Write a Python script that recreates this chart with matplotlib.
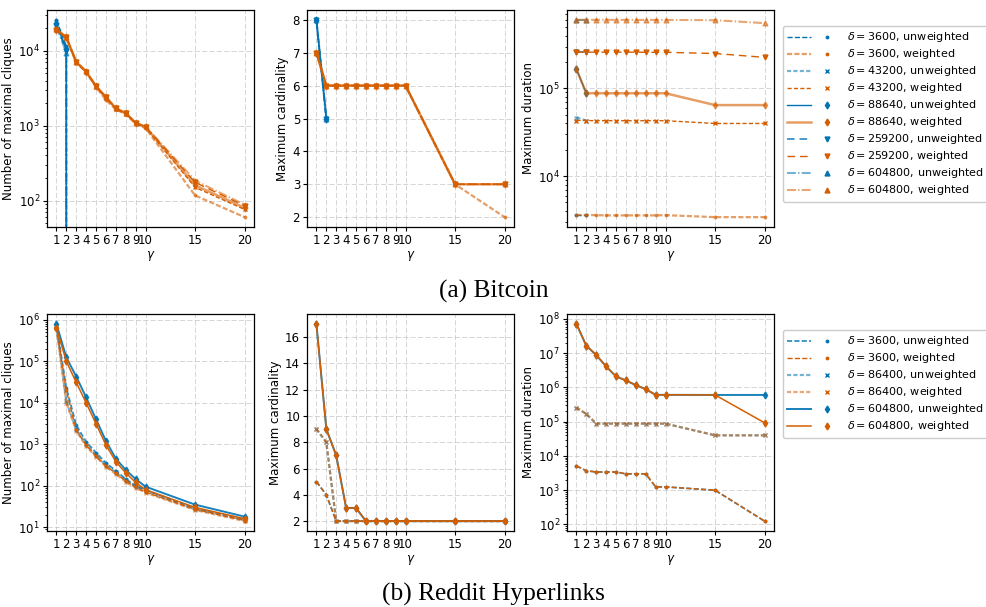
import numpy as np
import matplotlib
matplotlib.use("Agg")
import matplotlib.pyplot as plt
from matplotlib.lines import Line2D
from matplotlib.legend_handler import HandlerTuple
from matplotlib.ticker import MultipleLocator

nan = np.nan
gammas = [1, 2, 3, 4, 5, 6, 7, 8, 9, 10, 15, 20]
xtick_labels = ["1", "2", "3", "4", "5", "6", "7", "8", "9", "10", "15", "20"]

# ---------------- Bitcoin ----------------
btc_deltas = [3600, 43200, 88640, 259200, 604800]
z = [0] * 10
btc_count_unw = {
    3600:   [2.6e4, 1.15e4] + z,
    43200:  [2.45e4, 1.1e4] + z,
    88640:  [2.3e4, 1.05e4] + z,
    259200: [2.2e4, 1.0e4] + z,
    604800: [2.1e4, 9.5e3] + z,
}
btc_count_w = {
    3600:   [1.9e4, 1.5e4, 7.0e3, 5.2e3, 3.3e3, 2.2e3, 1.65e3, 1.42e3, 1.06e3, 930, 117, 60],
    43200:  [1.9e4, 1.5e4, 7.0e3, 5.2e3, 3.3e3, 2.35e3, 1.68e3, 1.45e3, 1.08e3, 950, 150, 76],
    88640:  [1.9e4, 1.52e4, 7.1e3, 5.3e3, 3.35e3, 2.4e3, 1.7e3, 1.47e3, 1.09e3, 960, 160, 80],
    259200: [1.92e4, 1.52e4, 7.1e3, 5.3e3, 3.35e3, 2.4e3, 1.7e3, 1.47e3, 1.1e3, 970, 175, 85],
    604800: [1.95e4, 1.55e4, 7.2e3, 5.35e3, 3.4e3, 2.45e3, 1.72e3, 1.48e3, 1.1e3, 980, 185, 88],
}
n10 = [nan] * 10
btc_card_unw = {
    3600:   [8, 5] + n10,
    43200:  [8, 5] + n10,
    88640:  [8, 5] + n10,
    259200: [8, 5] + n10,
    604800: [8, 5] + n10,
}
btc_card_w = {
    3600:   [7, 6, 6, 6, 6, 6, 6, 6, 6, 6, 3, 2],
    43200:  [7, 6, 6, 6, 6, 6, 6, 6, 6, 6, 3, 3],
    88640:  [7, 6, 6, 6, 6, 6, 6, 6, 6, 6, 3, 3],
    259200: [7, 6, 6, 6, 6, 6, 6, 6, 6, 6, 3, 3],
    604800: [7, 6, 6, 6, 6, 6, 6, 6, 6, 6, 3, 3],
}
btc_dur_unw = {
    3600:   [3.6e3, 3.6e3] + n10,
    43200:  [4.65e4, 4.3e4] + n10,
    88640:  [1.66e5, 8.8e4] + n10,
    259200: [2.59e5, 2.59e5] + n10,
    604800: [6.05e5, 6.05e5] + n10,
}
btc_dur_w = {
    3600:   [3.6e3, 3.6e3, 3.58e3, 3.56e3, 3.56e3, 3.56e3, 3.56e3, 3.56e3, 3.56e3, 3.58e3, 3.4e3, 3.4e3],
    43200:  [4.3e4, 4.3e4, 4.28e4, 4.28e4, 4.28e4, 4.28e4, 4.28e4, 4.28e4, 4.28e4, 4.28e4, 3.98e4, 3.98e4],
    88640:  [1.66e5, 8.8e4, 8.8e4, 8.8e4, 8.8e4, 8.8e4, 8.8e4, 8.8e4, 8.8e4, 8.8e4, 6.45e4, 6.45e4],
    259200: [2.59e5, 2.59e5, 2.59e5, 2.59e5, 2.59e5, 2.59e5, 2.59e5, 2.58e5, 2.58e5, 2.58e5, 2.5e5, 2.26e5],
    604800: [6.05e5, 6.05e5, 6.05e5, 6.05e5, 6.05e5, 6.05e5, 6.04e5, 6.04e5, 6.04e5, 6.04e5, 6.0e5, 5.55e5],
}

# ---------------- Reddit ----------------
red_deltas = [3600, 86400, 604800]
red_count_unw = {
    3600:   [7.5e5, 2.3e4, 2.9e3, 1.14e3, 630, 355, 230, 145, 100, 80, 28, 15.5],
    86400:  [7.2e5, 1.1e4, 2.3e3, 1.0e3, 540, 310, 210, 135, 97, 75, 27, 15],
    604800: [8.0e5, 1.25e5, 4.3e4, 1.35e4, 4.0e3, 1.2e3, 450, 240, 145, 95, 35, 18],
}
red_count_w = {
    3600:   [6.5e5, 2.0e4, 2.2e3, 950, 520, 300, 200, 130, 92, 70, 27, 14.5],
    86400:  [6.3e5, 1.0e4, 2.1e3, 900, 500, 290, 190, 125, 90, 68, 26, 14],
    604800: [6.3e5, 1.0e5, 3.1e4, 1.0e4, 3.1e3, 960, 380, 204, 120, 80, 30, 16],
}
red_card_unw = {
    3600:   [5, 4, 2, 2, 2, 2, 2, 2, 2, 2, 2, 2],
    86400:  [9, 8, 2, 2, 2, 2, 2, 2, 2, 2, 2, 2],
    604800: [17, 9, 7, 3, 3, 2, 2, 2, 2, 2, 2, 2],
}
red_card_w = {
    3600:   [5, 4, 2, 2, 2, 2, 2, 2, 2, 2, 2, 2],
    86400:  [9, 8, 2, 2, 2, 2, 2, 2, 2, 2, 2, 2],
    604800: [17, 9, 7, 3, 3, 2, 2, 2, 2, 2, 2, 2],
}
red_dur_unw = {
    3600:   [5.1e3, 3.7e3, 3.4e3, 3.4e3, 3.4e3, 3.0e3, 3.0e3, 3.0e3, 1.25e3, 1.25e3, 1.0e3, 125],
    86400:  [2.6e5, 1.68e5, 8.8e4, 8.8e4, 8.8e4, 8.8e4, 8.8e4, 8.8e4, 8.8e4, 8.8e4, 4.0e4, 4.0e4],
    604800: [7.2e7, 1.65e7, 8.9e6, 4.1e6, 2.1e6, 1.6e6, 1.17e6, 8.9e5, 6.1e5, 6.1e5, 6.05e5, 6.05e5],
}
red_dur_w = {
    3600:   [5.1e3, 3.7e3, 3.4e3, 3.4e3, 3.4e3, 3.0e3, 3.0e3, 3.0e3, 1.25e3, 1.25e3, 1.0e3, 125],
    86400:  [2.6e5, 1.68e5, 8.8e4, 8.8e4, 8.8e4, 8.8e4, 8.8e4, 8.8e4, 8.8e4, 8.8e4, 4.0e4, 4.0e4],
    604800: [7.2e7, 1.65e7, 8.9e6, 4.1e6, 2.1e6, 1.6e6, 1.17e6, 8.9e5, 6.1e5, 6.1e5, 6.05e5, 9.3e4],
}

# ---------------- styles ----------------
BLUE = "#0173b2"
ORANGE = "#d55e00"
ls_map = {3600: (0, (3.7, 1.6)), 43200: (0, (3, 1.6)), 86400: (0, (3, 1.6)), 88640: "-",
          259200: (0, (5.5, 3.5)), 604800: (0, (6.4, 1.6, 1, 1.6))}
mk_map = {3600: ".", 43200: "x", 86400: "x", 88640: "d", 259200: "v", 604800: "^"}
# (linewidth, alpha) for (delta, weighted)
btc_lw = {(3600, 0): (1, 1), (3600, 1): (1.6, 0.6), (43200, 0): (1.6, 0.55), (43200, 1): (1, 1),
          (88640, 0): (1, 1), (88640, 1): (1.8, 0.6), (259200, 0): (1.1, 0.9), (259200, 1): (1, 1),
          (604800, 0): (1.5, 0.55), (604800, 1): (1.5, 0.55)}
red_lw = {(3600, 0): (1.3, 0.8), (3600, 1): (1, 1), (86400, 0): (1.6, 0.55), (86400, 1): (1.6, 0.55),
          (604800, 0): (1.4, 0.9), (604800, 1): (1.1, 1)}
red_ls = dict(ls_map)
red_ls[604800] = "-"
red_mk = dict(mk_map)
red_mk[604800] = "d"

plt.rcParams["font.family"] = ["DejaVu Sans"]
plt.rcParams["font.size"] = 8
plt.rcParams["lines.scale_dashes"] = False
plt.rcParams["xtick.major.size"] = 2.6
plt.rcParams["ytick.major.size"] = 2.6
plt.rcParams["xtick.minor.size"] = 1.5
plt.rcParams["ytick.minor.size"] = 1.5
plt.rcParams["xtick.major.pad"] = 2.4
plt.rcParams["ytick.major.pad"] = 2.4
plt.rcParams["axes.linewidth"] = 0.9

fig = plt.figure(figsize=(9.87, 6.07), dpi=100)

W = 207 / 987
H = 217 / 607
lefts = [47 / 987, 307 / 987, 567 / 987]
bottoms = [(607 - 227) / 607, (607 - 531) / 607]


def draw(ax, deltas, unw, w, lwmap, lsmap, mkmap, logy, ylabel, ystep=None):
    for d in deltas:
        lw, a = lwmap[(d, 0)]
        ax.plot(gammas, unw[d], color=BLUE, ls=lsmap[d], lw=lw, alpha=a,
                marker=mkmap[d], ms=3.5)
    for d in deltas:
        lw, a = lwmap[(d, 1)]
        ax.plot(gammas, w[d], color=ORANGE, ls=lsmap[d], lw=lw, alpha=a,
                marker=mkmap[d], ms=3.5)
    if logy:
        ax.set_yscale("log", nonpositive="clip")
    if ystep:
        ax.yaxis.set_major_locator(MultipleLocator(ystep))
    ax.set_xticks(gammas)
    ax.set_xticklabels(xtick_labels)
    ax.set_xlabel(r"$\gamma$", labelpad=1.5, fontsize=8.5)
    ax.set_ylabel(ylabel, fontsize=8.5, labelpad=2.5)
    ax.grid(True, which="major", ls="--", color="#bbbbbb", alpha=0.6, lw=0.7)
    ax.tick_params(labelsize=8.5)


rows = [
    (btc_deltas, [(btc_count_unw, btc_count_w, True, "Number of maximal cliques", None),
                  (btc_card_unw, btc_card_w, False, "Maximum cardinality", 1),
                  (btc_dur_unw, btc_dur_w, True, "Maximum duration", None)], btc_lw, ls_map, mk_map),
    (red_deltas, [(red_count_unw, red_count_w, True, "Number of maximal cliques", None),
                  (red_card_unw, red_card_w, False, "Maximum cardinality", 2),
                  (red_dur_unw, red_dur_w, True, "Maximum duration", None)], red_lw, red_ls, red_mk),
]

for r, (deltas, panels, lwmap, lsmap, mkmap) in enumerate(rows):
    for c, (unw, w, logy, ylabel, ystep) in enumerate(panels):
        ax = fig.add_axes([lefts[c], bottoms[r], W, H])
        draw(ax, deltas, unw, w, lwmap, lsmap, mkmap, logy, ylabel, ystep)
    handles, labels = [], []
    for d in deltas:
        for k, (col, name) in enumerate([(BLUE, "unweighted"), (ORANGE, "weighted")]):
            lw, a = lwmap[(d, k)]
            h1 = Line2D([], [], color=col, ls=lsmap[d], lw=lw, alpha=a)
            h2 = Line2D([], [], color=col, ls="none", marker=mkmap[d], ms=3.5)
            handles.append((h1, h2))
            labels.append(r"$\delta = %d$, %s" % (d, name))
    top = (607 - 26) / 607 if r == 0 else (607 - 330) / 607
    fig.legend(handles, labels, loc="upper left", bbox_to_anchor=(783 / 987, top),
               handler_map={tuple: HandlerTuple(ndivide=None, pad=0.4)},
               handlelength=4.6, handletextpad=0.8, fontsize=8, framealpha=1,
               borderaxespad=0, labelspacing=0.27)

fig.text(0.5, 1 - 291 / 607, "(a) Bitcoin", ha="center", va="center",
         fontsize=18.3, family="Liberation Serif")
fig.text(0.5, 1 - 594 / 607, "(b) Reddit Hyperlinks", ha="center", va="center",
         fontsize=18.3, family="Liberation Serif")

fig.savefig("out.png", dpi=100)
